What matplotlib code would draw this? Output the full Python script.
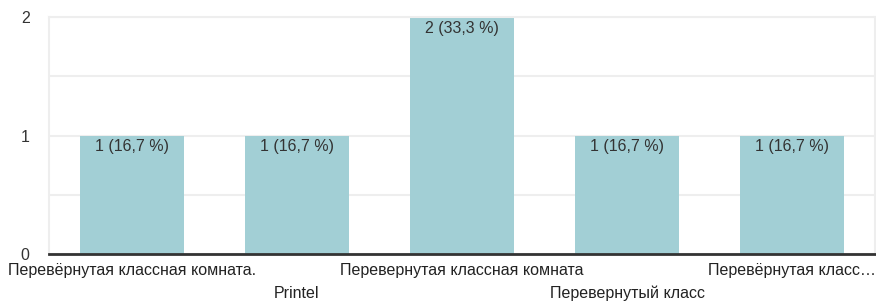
import matplotlib
matplotlib.use('Agg')
import matplotlib.pyplot as plt

plt.rcParams['font.family'] = ['Liberation Sans', 'DejaVu Sans']

# Données
categories = ["Перевёрнутая классная комната.", "Printel",
              "Перевернутая классная комната", "Перевернутый класс",
              "Перевёрнутая класс…"]
counts = [1, 1, 2, 1, 1]
labels = ["1 (16,7 %)", "1 (16,7 %)", "2 (33,3 %)", "1 (16,7 %)", "1 (16,7 %)"]

fig = plt.figure(figsize=(8.76, 3.01), dpi=100)
ax = fig.add_axes([49 / 876, 1 - 254 / 301, 826 / 876, 237 / 301])

x = range(len(categories))
bars = ax.bar(x, counts, width=0.63, color='#a2cfd5', zorder=2)

ax.set_xlim(-0.5, len(categories) - 0.5)
ax.set_ylim(0, 2)
ax.set_yticks([0, 1, 2])
ax.set_yticks([0.5, 1.5], minor=True)
ax.grid(True, axis='y', which='both', color='#eeeeee', linewidth=1.5, zorder=0)
ax.tick_params(axis='y', which='both', length=0, pad=14, labelsize=11.5, labelcolor='#333333')
ax.set_xticks([])

for side in ['left', 'top', 'right']:
    ax.spines[side].set_color('#eeeeee')
    ax.spines[side].set_linewidth(1.5)
ax.spines['bottom'].set_color('#333333')
ax.spines['bottom'].set_linewidth(2)
ax.spines['bottom'].set_zorder(3)

# Etiquettes de valeur
for b, lab in zip(bars, labels):
    ax.annotate(lab, (b.get_x() + b.get_width() / 2, b.get_height()),
                xytext=(0, -11), textcoords='offset pixels',
                ha='center', va='center', fontsize=11.5, color='#333333', zorder=4)

# Etiquettes de catégories sur deux rangées
for i, cat in enumerate(categories):
    off = -16 if i % 2 == 0 else -39
    ax.annotate(cat, (i, 0), xytext=(0, off), textcoords='offset pixels',
                ha='center', va='center', fontsize=11.5, color='#222222',
                annotation_clip=False)

fig.savefig('out.png', dpi=100)
